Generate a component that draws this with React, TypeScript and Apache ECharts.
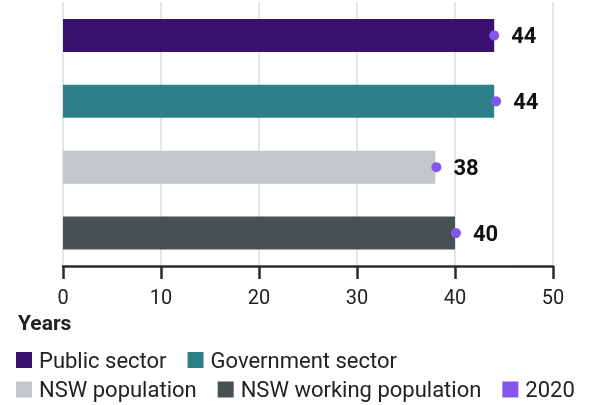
import React, { useEffect, useRef } from "react";
import * as echarts from "echarts";

const categories = ["Public sector", "Government sector", "NSW population", "NSW working population"];
const barValues = [44, 44, 38, 40];
const dotValues = [44, 44.2, 38.1, 40.1];
const labelValues = [44, 44, 38, 40];
const barColors = ["#3a1170", "#2d7f8a", "#c3c7cb", "#485054"];
const dotColor = "#8356ee";
const xTicks = [0, 10, 20, 30, 40, 50];
const FONT = "Roboto, 'Noto Sans', sans-serif";

export default function App() {
  const ref = useRef<HTMLDivElement>(null);
  useEffect(() => {
    const chart = echarts.init(ref.current!, null, { renderer: "svg" });
    const barSeries = categories.map((name, i) => ({
      name,
      type: "bar",
      stack: "s",
      barWidth: "50%",
      itemStyle: { color: barColors[i] },
      data: categories.map((_, j) => (j === i ? barValues[i] : "-")),
      z: 2,
    }));
    const legendCommon = {
      left: 11,
      itemWidth: 16,
      itemHeight: 16,
      itemGap: 21,
      icon: "rect",
      textStyle: { fontSize: 22, color: "#222", fontFamily: FONT, padding: [0, 0, 0, 2] },
    };
    chart.setOption({
      animation: false,
      textStyle: { fontFamily: FONT },
      grid: { left: 63, right: 38, top: 2.5, bottom: 139, containLabel: false },
      xAxis: {
        type: "value",
        min: xTicks[0],
        max: xTicks[xTicks.length - 1],
        interval: 10,
        axisLine: { show: true, lineStyle: { color: "#2b2b2b", width: 2.5 } },
        axisTick: { show: true, length: 13, lineStyle: { color: "#2b2b2b", width: 2.5 } },
        axisLabel: { color: "#222", fontSize: 20, fontFamily: FONT, margin: 21 },
        splitLine: { show: true, lineStyle: { color: "#dddddd", width: 1.5 } },
      },
      yAxis: {
        type: "category",
        inverse: true,
        data: categories,
        axisLine: { show: false },
        axisTick: { show: false },
        axisLabel: { show: false },
      },
      legend: [
        { ...legendCommon, top: 344, data: ["Public sector", "Government sector"] },
        { ...legendCommon, top: 373.5, data: ["NSW population", "NSW working population", "2020"] },
      ],
      graphic: [
        {
          type: "text",
          left: 18,
          top: 312,
          style: { text: "Years", fontSize: 21, fontWeight: "bold", fill: "#222", fontFamily: FONT },
        },
      ],
      series: [
        ...barSeries,
        {
          name: "2020",
          type: "scatter",
          symbol: "circle",
          symbolSize: 10,
          itemStyle: { color: dotColor, opacity: 1 },
          data: dotValues.map((v, i) => [v, categories[i]]),
          label: {
            show: true,
            position: "right",
            distance: 12,
            formatter: (p: any) => String(labelValues[p.dataIndex]),
            fontSize: 22,
            fontWeight: "bold",
            color: "#111111",
            fontFamily: FONT,
          },
          z: 5,
        },
      ],
    });
    return () => chart.dispose();
  }, []);
  return (
    <div
      ref={ref}
      style={{ position: "fixed", left: 0, top: 0, width: 591, height: 405 }}
    />
  );
}
